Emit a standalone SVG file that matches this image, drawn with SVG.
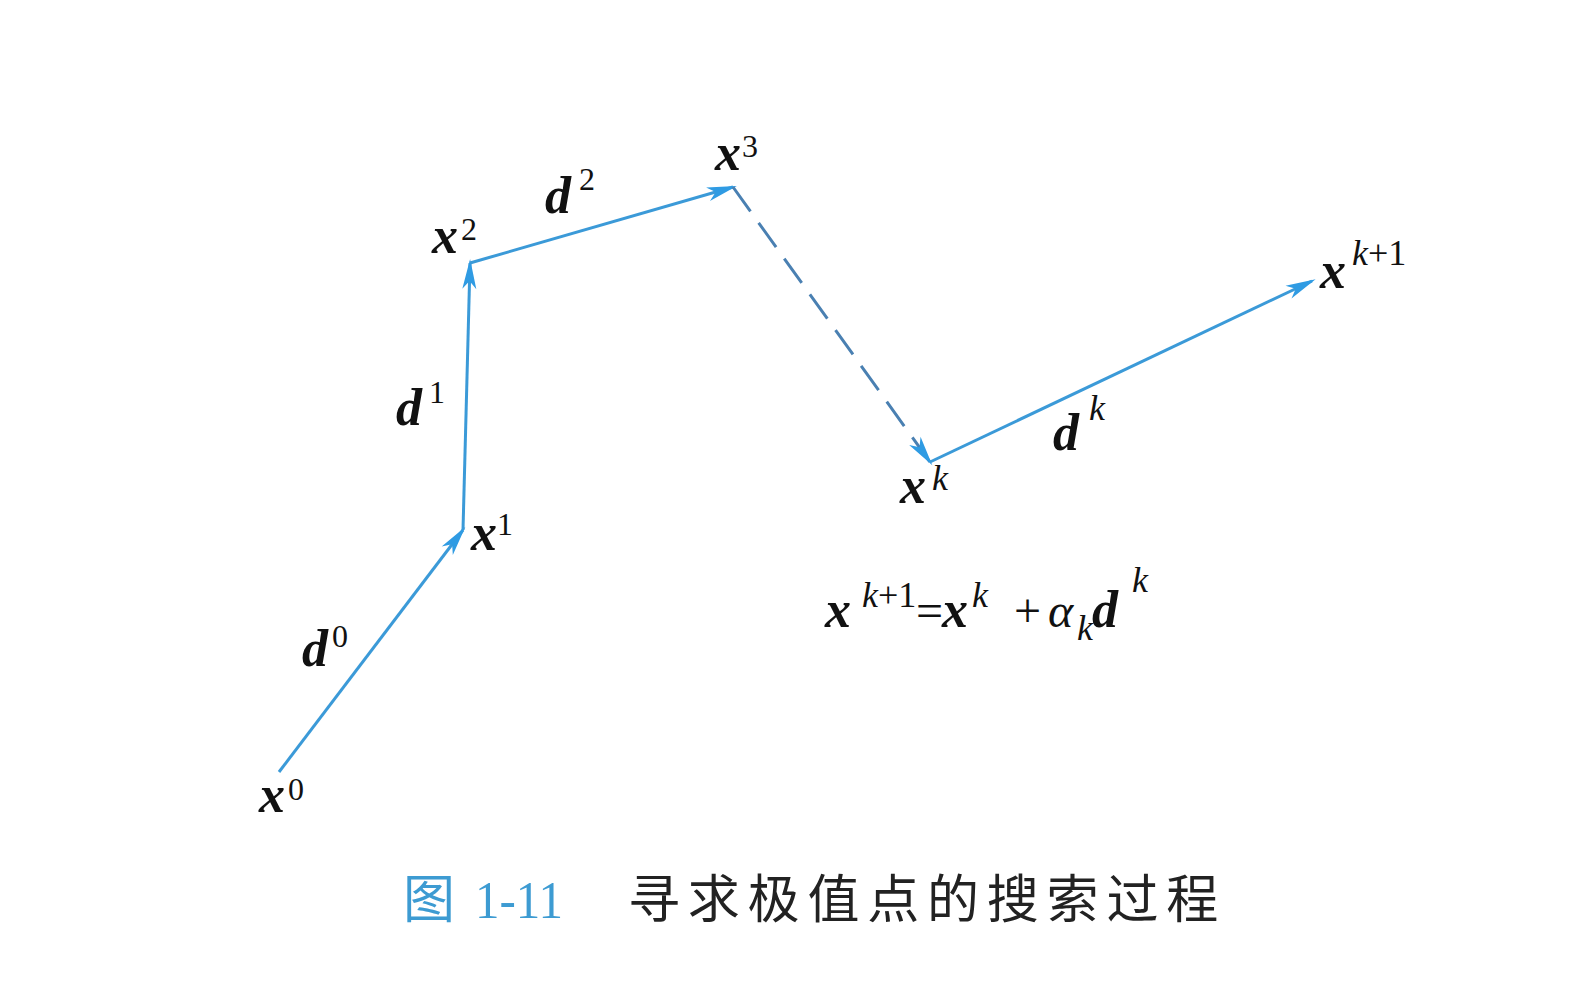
<svg xmlns="http://www.w3.org/2000/svg" width="1592" height="993" viewBox="0 0 1592 993">
<defs>
<style>
.seg{stroke:#3b9ad8;stroke-width:3;fill:none}
.dash{stroke:#4a80b2;stroke-width:3;fill:none;stroke-dasharray:30 14}
.v{font-family:"Liberation Serif","Times New Roman",serif;font-weight:bold;font-style:italic;font-size:52px;fill:#111}
.s{font-family:"Liberation Serif","Times New Roman",serif;font-weight:normal;font-style:normal;font-size:32px;fill:#111}
.sk{font-family:"Liberation Serif","Times New Roman",serif;font-weight:normal;font-style:normal;font-size:36px;fill:#111}
.si{font-style:italic}
.op{font-family:"Liberation Serif","Times New Roman",serif;font-size:48px;fill:#111}
.cap{font-family:"Liberation Serif","Noto Sans CJK SC",serif;font-size:52px}
</style>
<marker id="ah" markerUnits="userSpaceOnUse" markerWidth="40" markerHeight="20" viewBox="-32 -10 40 20" refX="-4" refY="0" orient="auto">
<path d="M0,0 L-30,-7 L-22,0 L-30,7 Z" fill="#2f9be3"/>
</marker>
</defs>
<rect width="1592" height="993" fill="#fff"/>
<g id="connectors">
<line class="seg" x1="279" y1="772" x2="463" y2="530" marker-end="url(#ah)"/>
<line class="seg" x1="463" y1="530" x2="470" y2="263" marker-end="url(#ah)"/>
<line class="seg" x1="470" y1="263" x2="733" y2="187" marker-end="url(#ah)"/>
<line class="dash" x1="733" y1="187" x2="930" y2="462" marker-end="url(#ah)"/>
<line class="seg" x1="930" y1="462" x2="1312" y2="281" marker-end="url(#ah)"/>
</g>
<g id="x0"><text class="v" x="259" y="812">x<tspan class="s" x="288" y="800">0</tspan></text></g>
<g id="d0"><text class="v" x="302" y="666">d<tspan class="s" x="332" y="647">0</tspan></text></g>
<g id="x1"><text class="v" x="471" y="550">x<tspan class="s" x="497" y="535">1</tspan></text></g>
<g id="d1"><text class="v" x="396" y="425">d<tspan class="s" x="429" y="403">1</tspan></text></g>
<g id="x2"><text class="v" x="432" y="253">x<tspan class="s" x="461" y="240">2</tspan></text></g>
<g id="d2"><text class="v" x="545" y="213">d<tspan class="s" x="579" y="190">2</tspan></text></g>
<g id="x3"><text class="v" x="715" y="170">x<tspan class="s" x="742" y="157">3</tspan></text></g>
<g id="xk"><text class="v" x="900" y="503">x<tspan class="sk si" x="932" y="490">k</tspan></text></g>
<g id="dk"><text class="v" x="1053" y="450">d<tspan class="sk si" x="1089" y="420">k</tspan></text></g>
<g id="xk1"><text class="v" x="1320" y="288">x<tspan class="sk" x="1352" y="265"><tspan class="si">k</tspan>+1</tspan></text></g>
<g id="formula">
<text class="v" x="825" y="627">x</text>
<text class="sk" x="862" y="607"><tspan class="si">k</tspan>+1</text>
<text class="op" x="916" y="627">=</text>
<text class="v" x="942" y="627">x</text>
<text class="sk si" x="972" y="607">k</text>
<text class="op" x="1014" y="627">+</text>
<text class="op" x="1048" y="627" font-style="italic">α</text>
<text class="sk si" x="1077" y="640">k</text>
<text class="v" x="1092" y="627">d</text>
<text class="sk si" x="1132" y="592">k</text>
</g>
<g id="caption">
<text class="cap" x="403" y="918" fill="#3d9bd2">图<tspan x="475" textLength="88" lengthAdjust="spacingAndGlyphs">1-11</tspan></text>
<text class="cap" x="628" y="918" fill="#222" letter-spacing="7.8">寻求极值点的搜索过程</text>
</g>
</svg>
